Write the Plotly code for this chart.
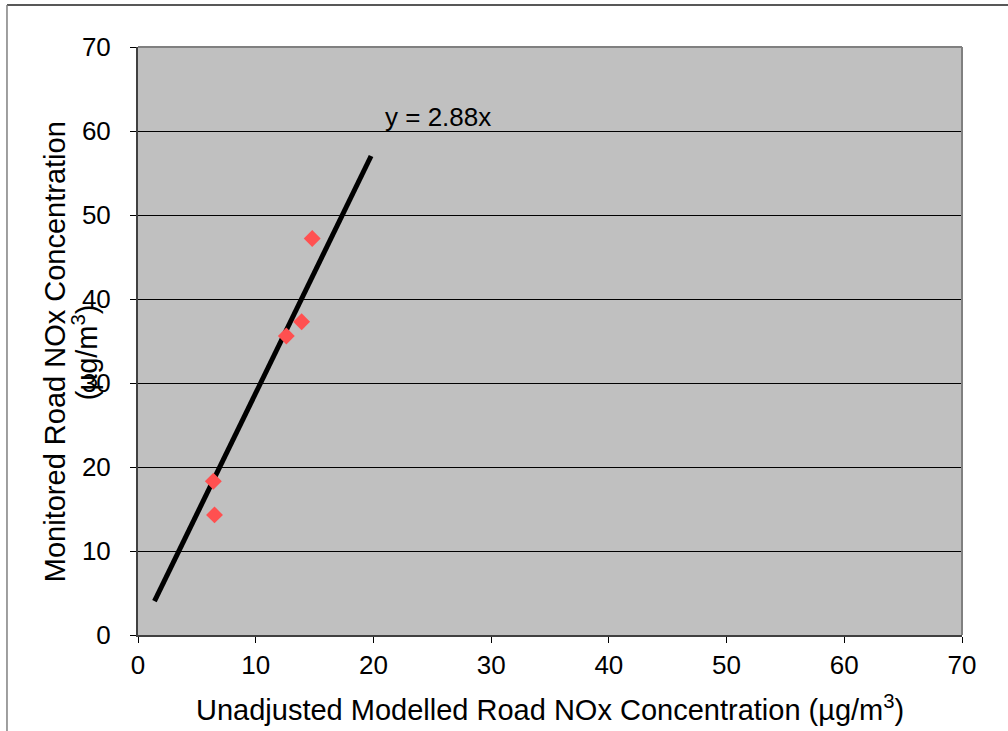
import plotly.graph_objects as go

modelled = [14.8, 13.9, 12.6, 6.4, 6.5]
monitored = [47.2, 37.3, 35.6, 18.3, 14.3]
slope = 2.88
line_x = [1.4, 19.8]
line_y = [slope * v for v in line_x]
ticks = [0, 10, 20, 30, 40, 50, 60, 70]

FONT = "Liberation Sans, Arial, sans-serif"

fig = go.Figure()
fig.add_trace(go.Scatter(x=line_x, y=line_y, mode="lines",
                         line=dict(color="black", width=5), showlegend=False))
fig.add_trace(go.Scatter(x=modelled, y=monitored, mode="markers",
                         marker=dict(symbol="diamond", size=13, color="#FF5050"),
                         showlegend=False))

fig.update_layout(
    width=1008, height=731,
    margin=dict(l=138, r=46, t=47, b=96),
    paper_bgcolor="white", plot_bgcolor="#C0C0C0",
    font=dict(family=FONT, color="black", size=26),
    xaxis=dict(range=[0, 70], tickvals=ticks, showgrid=False, zeroline=False,
               showline=True, linecolor="#404040", linewidth=2,
               ticks="outside", ticklen=6, tickcolor="black",
               tickfont=dict(size=26)),
    yaxis=dict(range=[0, 70], tickvals=ticks, showgrid=True, gridcolor="black", gridwidth=1,
               zeroline=False, showline=True, linecolor="#404040", linewidth=2,
               ticks="outside", ticklen=6, tickcolor="black",
               ticklabelstandoff=14,
               tickfont=dict(size=26)),
)

# top/right plot border
fig.add_shape(type="line", xref="paper", yref="paper", x0=0, x1=1, y0=1, y1=1,
              line=dict(color="#808080", width=2))
fig.add_shape(type="line", xref="paper", yref="paper", x0=1, x1=1, y0=0, y1=1,
              line=dict(color="#808080", width=2))
# outer chart border
fig.add_shape(type="line", xref="paper", yref="paper", x0=-0.159, x1=1.2, y0=1.0714, y1=1.0714,
              line=dict(color="#202020", width=1.5))
fig.add_shape(type="line", xref="paper", yref="paper", x0=-0.159, x1=-0.159, y0=-0.3, y1=1.0714,
              line=dict(color="#808080", width=1.5))

fig.add_annotation(text="Unadjusted Modelled Road NOx Concentration (µg/m<sup>3</sup>)",
                   xref="paper", yref="paper", x=0.5, y=-0.124,
                   xanchor="center", yanchor="middle", showarrow=False,
                   font=dict(size=29))
fig.add_annotation(text="Monitored Road NOx Concentration", xref="paper", yref="paper",
                   x=-0.1007, y=0.481, xanchor="center", yanchor="middle", textangle=-90,
                   showarrow=False, font=dict(size=29))
fig.add_annotation(text="(µg/m<sup>3</sup>)", xref="paper", yref="paper",
                   x=-0.0643, y=0.481, xanchor="center", yanchor="middle", textangle=-90,
                   showarrow=False, font=dict(size=29))
fig.add_annotation(text="y = 2.88x", x=25.5, y=61.7, showarrow=False,
                   font=dict(size=26))

fig.write_html("out.html", config={"displayModeBar": False},
               post_script="document.body.style.margin='0';document.body.style.overflow='hidden';")
